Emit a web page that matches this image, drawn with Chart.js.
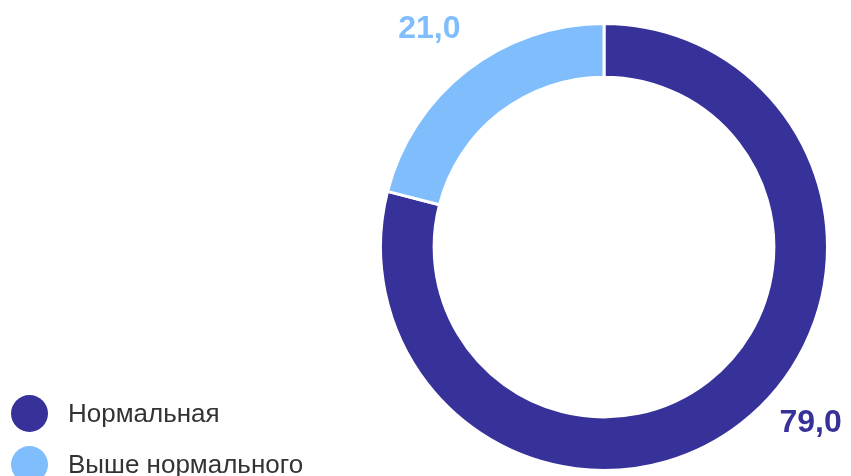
<!DOCTYPE html>
<html>
<head>
<meta charset="utf-8">
<script src="https://cdn.jsdelivr.net/npm/chart.js@4"></script>
<style>
  html, body { margin: 0; padding: 0; background: #fff; }
  #wrap { position: relative; width: 851px; height: 476px; overflow: hidden; }
  #legend { position: absolute; left: 11px; top: 395px; font-family: "Liberation Sans", Arial, sans-serif; font-size: 26px; color: #333; }
  .item { display: flex; align-items: center; height: 37px; margin-bottom: 14px; white-space: nowrap; }
  .dot { width: 37px; height: 37px; border-radius: 50%; margin-right: 20px; flex: none; }
</style>
</head>
<body>
<div id="wrap">
  <canvas id="donut" width="851" height="476"></canvas>
  <div id="legend"></div>
</div>
<script>
const labels = ["Нормальная", "Выше нормального"];
const values = [79.0, 21.0];
const colors = ["#37319a", "#80bdfd"];

// where each value label sits along its slice (fraction of arc) and how far outside the ring
const labelFrac = [0.457, 0.493];
const labelGap = [46, 58];

const ctx = document.getElementById("donut").getContext("2d");

const outsideLabels = {
  id: "outsideLabels",
  afterDatasetsDraw(chart) {
    const c = chart.ctx;
    const arcs = chart.getDatasetMeta(0).data;
    const size = 32;
    c.save();
    c.font = `bold ${size}px 'Liberation Sans', Arial, sans-serif`;
    c.textAlign = "center";
    c.textBaseline = "alphabetic";
    arcs.forEach((arc, i) => {
      const p = arc.getProps(["x", "y", "startAngle", "endAngle", "outerRadius"], true);
      const a = p.startAngle + labelFrac[i] * (p.endAngle - p.startAngle);
      const r = p.outerRadius + labelGap[i];
      const x = p.x + Math.cos(a) * r;
      const y = p.y + Math.sin(a) * r;
      c.fillStyle = colors[i];
      c.fillText(values[i].toFixed(1).replace(".", ","), x, y + size * 0.358);
    });
    c.restore();
  }
};

new Chart(ctx, {
  type: "doughnut",
  data: {
    labels,
    datasets: [{
      data: values,
      backgroundColor: colors,
      borderColor: "#fff",
      borderWidth: 3
    }]
  },
  options: {
    responsive: false,
    animation: false,
    cutout: "76%",
    layout: { padding: { left: 379, right: 22, top: 22, bottom: 4 } },
    plugins: {
      legend: { display: false },
      tooltip: { enabled: false }
    }
  },
  plugins: [outsideLabels]
});

// legend
const legend = document.getElementById("legend");
labels.forEach((l, i) => {
  const row = document.createElement("div");
  row.className = "item";
  row.innerHTML = `<span class="dot" style="background:${colors[i]}"></span><span>${l}</span>`;
  legend.appendChild(row);
});
</script>
</body>
</html>
